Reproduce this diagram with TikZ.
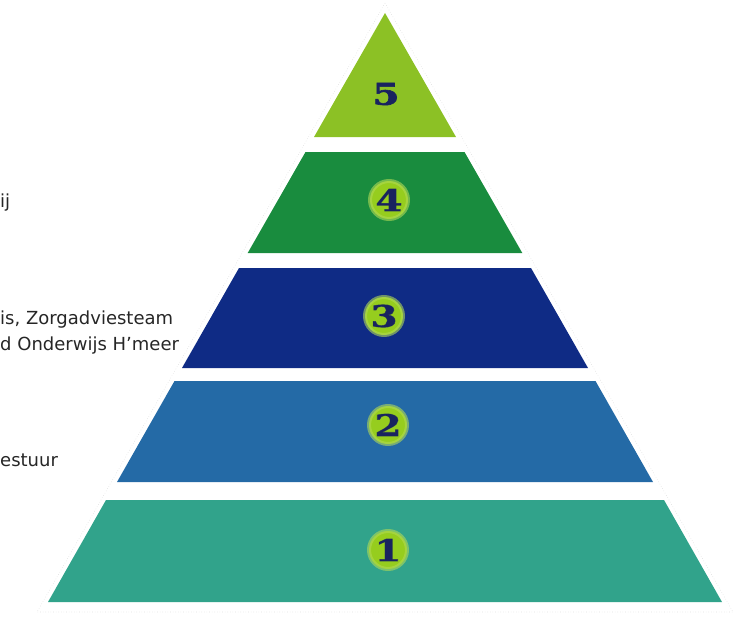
\documentclass[tikz,border=0pt]{standalone}
\usepackage{graphicx}
\usepackage{fontspec}
\setmainfont{DejaVu Sans}
\newfontfamily\digitfont[BoldFeatures={FakeBold=2}]{DejaVu Serif}
\usetikzlibrary{positioning}
\definecolor{lvlOne}{RGB}{49,163,139}
\definecolor{lvlTwo}{RGB}{36,106,166}
\definecolor{lvlThree}{RGB}{15,43,133}
\definecolor{lvlFour}{RGB}{25,140,62}
\definecolor{lvlFive}{RGB}{140,193,37}
\definecolor{ringLime}{RGB}{150,205,30}
\definecolor{digitNavy}{RGB}{25,35,95}
\newcommand{\wdig}[1]{\scalebox{1.3}[1]{#1}}
\tikzset{
    digit/.style={inner sep=0pt, text=digitNavy, font=\digitfont\bfseries\fontsize{30}{30}\selectfont},
    num/.style={digit, circle, fill=ringLime, draw=ringLime!75!white, draw opacity=0.6, line width=4pt, minimum size=38pt},
    lbl/.style={anchor=base west, inner sep=0pt, text=black!85, font=\fontsize{18}{26}\selectfont},
    outline/.style={draw=black!12, dotted, line width=0.6pt}
}

\begin{document}
\begin{tikzpicture}[x=1pt, y=-1pt]
        \useasboundingbox (0,0) rectangle (741,623);
        \draw[outline] (385,3) -- (733,612) -- (37,612) -- cycle;
        \fill[lvlFive] (385,13) -- (456,137) -- (314,137) -- cycle;
        \fill[lvlFour] (305.5,152) -- (464.5,152) -- (522.3,253) -- (247.7,253) -- cycle;
        \fill[lvlThree] (239,268) -- (531,268) -- (588,368) -- (182,368) -- cycle;
        \fill[lvlTwo] (174.5,381) -- (595.5,381) -- (653,482) -- (117,482) -- cycle;
        \fill[lvlOne] (106,500) -- (664,500) -- (722,602) -- (48,602) -- cycle;

        \node[digit] (n5) at (386,94) {\wdig{5}};
        \node[num] (n4) at (389,200) {\wdig{4}};
        \node[num] (n3) at (384,316) {\wdig{3}};
        \node[num] (n2) at (388,425) {\wdig{2}};
        \node[num] (n1) at (388,550) {\wdig{1}};

        \node[lbl] (ij) at (0,207) {ij};
        \node[lbl] (zorg) at (0,324) {is, Zorgadviesteam};
        \node[lbl] (onderwijs) at (0,350) {d Onderwijs H’meer};
        \node[lbl] (bestuur) at (0,466) {estuur};
    \end{tikzpicture}
\end{document}
